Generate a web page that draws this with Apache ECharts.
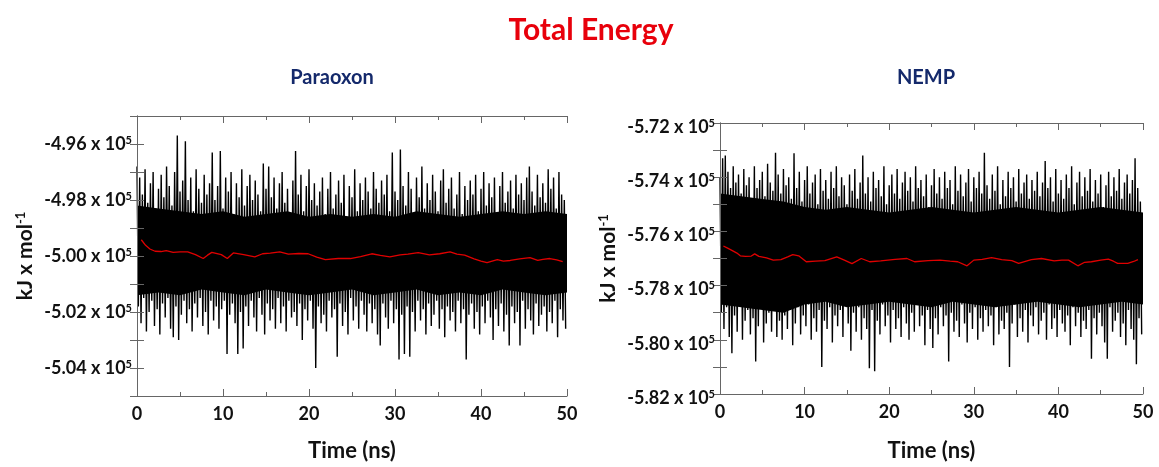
<!DOCTYPE html>
<html><head><meta charset="utf-8">
<script src="https://cdn.jsdelivr.net/npm/echarts@6/dist/echarts.min.js"></script>
<style>html,body{margin:0;padding:0;background:#fff}#c{width:1159px;height:467px}</style>
</head><body><div id="c"></div>
<script>
// ---- data (energies in units of 10^5 kJ/mol, time in ns) ----
const chartTitle = 'Total Energy';
const panelTitles = ['Paraoxon', 'NEMP'];
const xTicks = [0, 10, 20, 30, 40, 50];
const paraoxonYTicks = [-5.04, -5.02, -5.00, -4.98, -4.96];
const nempYTicks = [-5.82, -5.80, -5.78, -5.76, -5.74, -5.72];

// upper excursions of the raw trace (one per sample pair)
const paraoxonHigh = [
-4.968,-4.972,-4.978,-4.969,-4.981,-4.974,-4.970,-4.983,-4.976,-4.971,
-4.979,-4.968,-4.975,-4.982,-4.970,-4.957,-4.977,-4.973,-4.959,-4.980,
-4.972,-4.984,-4.969,-4.976,-4.981,-4.971,-4.978,-4.974,-4.963,-4.980,
-4.975,-4.9625,-4.983,-4.972,-4.977,-4.970,-4.985,-4.974,-4.979,-4.969,
-4.982,-4.975,-4.971,-4.980,-4.973,-4.978,-4.984,-4.967,-4.976,-4.968,
-4.979,-4.972,-4.983,-4.974,-4.970,-4.981,-4.976,-4.986,-4.973,-4.9625,
-4.978,-4.971,-4.984,-4.975,-4.969,-4.980,-4.974,-4.982,-4.977,-4.972,
-4.985,-4.976,-4.970,-4.983,-4.978,-4.973,-4.981,-4.971,-4.986,-4.975,
-4.979,-4.969,-4.984,-4.974,-4.980,-4.972,-4.977,-4.983,-4.970,-4.976,
-4.981,-4.973,-4.978,-4.971,-4.984,-4.963,-4.977,-4.980,-4.962,-4.975,
-4.982,-4.970,-4.976,-4.985,-4.972,-4.979,-4.968,-4.983,-4.974,-4.980,
-4.971,-4.977,-4.984,-4.973,-4.969,-4.981,-4.976,-4.972,-4.983,-4.978,
-4.970,-4.985,-4.975,-4.980,-4.973,-4.978,-4.971,-4.984,-4.976,-4.970,
-4.982,-4.974,-4.979,-4.972,-4.986,-4.975,-4.970,-4.981,-4.977,-4.973,
-4.983,-4.971,-4.978,-4.974,-4.980,-4.972,-4.968,-4.977,-4.982,-4.971,
-4.979,-4.974,-4.981,-4.969,-4.976,-4.972,-4.983,-4.970,-4.978,-4.980];
// lower excursions of the raw trace
const paraoxonLow = [
-5.018,-5.024,-5.015,-5.027,-5.020,-5.016,-5.025,-5.019,-5.028,-5.017,
-5.022,-5.015,-5.026,-5.029,-5.018,-5.030,-5.021,-5.016,-5.024,-5.019,
-5.027,-5.017,-5.022,-5.015,-5.025,-5.020,-5.028,-5.016,-5.023,-5.018,
-5.026,-5.019,-5.016,-5.035,-5.021,-5.017,-5.024,-5.035,-5.020,-5.033,
-5.018,-5.025,-5.016,-5.022,-5.027,-5.015,-5.021,-5.028,-5.017,-5.023,
-5.019,-5.026,-5.015,-5.024,-5.018,-5.027,-5.016,-5.022,-5.020,-5.025,
-5.017,-5.030,-5.019,-5.023,-5.016,-5.026,-5.040,-5.018,-5.024,-5.021,
-5.027,-5.016,-5.022,-5.019,-5.036,-5.017,-5.025,-5.020,-5.028,-5.015,
-5.023,-5.018,-5.026,-5.016,-5.021,-5.027,-5.017,-5.024,-5.019,-5.028,
-5.032,-5.017,-5.022,-5.026,-5.016,-5.024,-5.019,-5.037,-5.021,-5.035,
-5.018,-5.036,-5.020,-5.027,-5.016,-5.023,-5.019,-5.028,-5.017,-5.025,
-5.021,-5.016,-5.026,-5.019,-5.029,-5.018,-5.023,-5.020,-5.027,-5.016,
-5.024,-5.019,-5.037,-5.021,-5.017,-5.026,-5.020,-5.028,-5.018,-5.024,
-5.016,-5.022,-5.030,-5.019,-5.025,-5.017,-5.027,-5.021,-5.032,-5.018,
-5.024,-5.020,-5.032,-5.016,-5.026,-5.019,-5.023,-5.028,-5.017,-5.025,
-5.021,-5.018,-5.027,-5.020,-5.024,-5.016,-5.029,-5.019,-5.023,-5.026];
const nempHigh = [
-5.740,-5.733,-5.732,-5.738,-5.744,-5.736,-5.742,-5.739,-5.746,-5.737,
-5.743,-5.740,-5.748,-5.736,-5.744,-5.741,-5.738,-5.747,-5.735,-5.742,
-5.745,-5.731,-5.739,-5.746,-5.737,-5.743,-5.740,-5.748,-5.7312,-5.744,
-5.738,-5.749,-5.741,-5.736,-5.746,-5.742,-5.739,-5.750,-5.737,-5.745,
-5.741,-5.748,-5.738,-5.744,-5.736,-5.747,-5.740,-5.743,-5.750,-5.739,
-5.745,-5.737,-5.748,-5.742,-5.732,-5.746,-5.740,-5.749,-5.738,-5.744,
-5.741,-5.747,-5.736,-5.750,-5.743,-5.739,-5.746,-5.737,-5.748,-5.742,
-5.738,-5.745,-5.740,-5.749,-5.736,-5.744,-5.741,-5.747,-5.739,-5.751,
-5.743,-5.737,-5.746,-5.740,-5.748,-5.738,-5.744,-5.741,-5.750,-5.736,
-5.745,-5.739,-5.747,-5.742,-5.737,-5.749,-5.740,-5.744,-5.738,-5.746,
-5.731,-5.743,-5.748,-5.739,-5.745,-5.736,-5.750,-5.741,-5.747,-5.738,
-5.744,-5.740,-5.749,-5.737,-5.746,-5.742,-5.739,-5.748,-5.741,-5.745,
-5.738,-5.747,-5.742,-5.734,-5.744,-5.740,-5.749,-5.737,-5.746,-5.741,
-5.748,-5.739,-5.744,-5.736,-5.750,-5.742,-5.738,-5.747,-5.740,-5.745,
-5.737,-5.749,-5.741,-5.746,-5.739,-5.751,-5.743,-5.738,-5.747,-5.740,
-5.745,-5.737,-5.748,-5.742,-5.739,-5.746,-5.741,-5.733,-5.744,-5.749];
const nempLow = [
-5.790,-5.796,-5.788,-5.799,-5.805,-5.791,-5.797,-5.787,-5.800,-5.793,
-5.789,-5.798,-5.792,-5.808,-5.795,-5.788,-5.801,-5.794,-5.790,-5.797,
-5.787,-5.799,-5.793,-5.800,-5.791,-5.796,-5.789,-5.802,-5.794,-5.788,
-5.798,-5.791,-5.795,-5.787,-5.800,-5.792,-5.797,-5.789,-5.810,-5.793,
-5.796,-5.788,-5.801,-5.791,-5.795,-5.789,-5.799,-5.786,-5.794,-5.804,
-5.790,-5.797,-5.788,-5.800,-5.792,-5.796,-5.8105,-5.789,-5.8116,-5.793,
-5.798,-5.787,-5.795,-5.791,-5.801,-5.789,-5.796,-5.792,-5.799,-5.788,
-5.794,-5.800,-5.790,-5.797,-5.787,-5.795,-5.791,-5.802,-5.789,-5.796,
-5.803,-5.792,-5.798,-5.788,-5.795,-5.791,-5.808,-5.790,-5.797,-5.793,
-5.799,-5.787,-5.794,-5.801,-5.790,-5.796,-5.788,-5.800,-5.792,-5.797,
-5.789,-5.795,-5.791,-5.802,-5.788,-5.798,-5.793,-5.796,-5.790,-5.810,
-5.794,-5.787,-5.799,-5.792,-5.797,-5.789,-5.801,-5.791,-5.795,-5.788,
-5.798,-5.793,-5.790,-5.800,-5.787,-5.796,-5.792,-5.799,-5.789,-5.794,
-5.797,-5.791,-5.802,-5.788,-5.795,-5.790,-5.799,-5.793,-5.796,-5.789,
-5.807,-5.792,-5.798,-5.790,-5.795,-5.801,-5.807,-5.788,-5.797,-5.793,
-5.790,-5.799,-5.794,-5.802,-5.789,-5.796,-5.800,-5.809,-5.792,-5.798];

// edges of the solid black core of each trace, every 2.5 ns
const coreTime = [0,2.5,5,7.5,10,12.5,15,17.5,20,22.5,25,27.5,30,32.5,35,37.5,40,42.5,45,47.5,50];
const paraoxonCoreHigh = [-4.982,-4.983,-4.984,-4.985,-4.984,-4.986,-4.985,-4.984,-4.986,-4.985,-4.986,-4.985,-4.986,-4.984,-4.985,-4.986,-4.985,-4.984,-4.985,-4.984,-4.985];
const paraoxonCoreLow = [-5.014,-5.013,-5.014,-5.012,-5.013,-5.014,-5.012,-5.013,-5.014,-5.013,-5.012,-5.014,-5.013,-5.012,-5.014,-5.013,-5.014,-5.012,-5.013,-5.014,-5.013];
const nempCoreHigh = [-5.746,-5.747,-5.748,-5.749,-5.751,-5.752,-5.751,-5.752,-5.753,-5.752,-5.751,-5.752,-5.753,-5.752,-5.751,-5.752,-5.753,-5.752,-5.751,-5.752,-5.753];
const nempCoreLow = [-5.787,-5.788,-5.789,-5.790,-5.787,-5.786,-5.788,-5.787,-5.786,-5.787,-5.788,-5.786,-5.787,-5.788,-5.787,-5.786,-5.787,-5.788,-5.787,-5.786,-5.787];

// running average (red)
const paraoxonAvgTime = [0.5,1.0,1.5,2.1,2.8,3.4,4.2,5.0,5.9,6.8,7.7,8.2,8.7,9.8,10.5,11.2,12.4,13.7,14.6,15.5,16.6,17.6,18.8,19.9,20.9,21.9,23.4,24.8,26.0,27.3,28.3,29.4,30.6,31.5,32.7,34.0,35.2,36.4,37.2,38.1,39.2,40.0,40.7,41.9,42.6,43.4,44.5,45.7,46.6,47.2,48.0,48.8,49.5];
const paraoxonAvg = [-4.9942,-4.9962,-4.9975,-4.9983,-4.9984,-4.9981,-4.9987,-4.9985,-4.9985,-4.9995,-5.0009,-4.9997,-4.9987,-4.9995,-5.0009,-4.9989,-4.9995,-5.0003,-4.9992,-4.9990,-4.9985,-4.9993,-4.9991,-4.9992,-5.0004,-5.0013,-5.0009,-5.0009,-5.0002,-4.9992,-4.9998,-5.0003,-4.9996,-4.9993,-4.9988,-4.9996,-4.9992,-4.9985,-4.9993,-4.9997,-5.0010,-5.0018,-5.0024,-5.0013,-5.0018,-5.0016,-5.0010,-5.0006,-5.0016,-5.0012,-5.0009,-5.0014,-5.0020];
const nempAvgTime = [0.4,0.9,1.4,2.0,2.4,3.0,3.7,4.1,4.6,5.5,6.3,7.2,8.0,8.6,9.3,10.2,11.3,12.4,13.8,14.7,15.6,16.7,17.7,19.0,20.7,22.1,23.0,24.6,26.0,27.2,28.1,29.2,30.0,31.0,32.1,33.3,34.5,35.3,36.8,38.0,39.5,40.4,41.2,42.3,43.1,43.9,45.0,45.9,46.5,47.0,48.2,48.9,49.4];
const nempAvg = [-5.7654,-5.7662,-5.7670,-5.7680,-5.7690,-5.7692,-5.7691,-5.7683,-5.7692,-5.7698,-5.7706,-5.7704,-5.7694,-5.7686,-5.7690,-5.7712,-5.7710,-5.7708,-5.7694,-5.7706,-5.7719,-5.7700,-5.7712,-5.7709,-5.7703,-5.7700,-5.7712,-5.7708,-5.7706,-5.7710,-5.7712,-5.7727,-5.7706,-5.7703,-5.7697,-5.7704,-5.7708,-5.7718,-5.7704,-5.7700,-5.7709,-5.7706,-5.7706,-5.7727,-5.7714,-5.7712,-5.7706,-5.7702,-5.7710,-5.7718,-5.7718,-5.7711,-5.7704];

const simLength = 50; // ns

// ---- build series data ----
function trace(high, low) {
  const step = simLength / high.length;
  const out = [];
  for (let i = 0; i < high.length; i++) {
    out.push([i * step, high[i]]);
    out.push([(i + 0.5) * step, low[i]]);
  }
  return out;
}
function pairs(t, v) { return t.map((x, i) => [x, v[i]]); }

const FONT = 'Lato';
const AX = '#666';
const TXT = '#111';
function yLabel(ticks) {
  return function (v) {
    const k = Math.round(v * 100);
    const hit = ticks.some(t => Math.round(t * 100) === k);
    if (!hit) return '';
    return '{a|' + (k / 100).toFixed(2) + ' x 10}{s|5}';
  };
}
const yRich = {
  a: { fontFamily: FONT, fontWeight: 'bold', fontSize: 18, color: TXT },
  s: { fontFamily: FONT, fontWeight: 'bold', fontSize: 11, color: TXT, verticalAlign: 'top', padding: [0, 0, 8, 0] }
};
const nameRich = {
  a: { fontFamily: FONT, fontWeight: 'bold', fontSize: 21, color: TXT },
  s: { fontFamily: FONT, fontWeight: 'bold', fontSize: 13, color: TXT, verticalAlign: 'top', padding: [0, 0, 9, 0] }
};

function xAxes(gi) {
  const base = {
    type: 'value', gridIndex: gi, min: 0, max: 50, interval: 10, z: 10,
    axisLine: { lineStyle: { color: AX, width: 1 } },
    axisTick: { inside: true, length: 7, lineStyle: { color: AX } },
    minorTick: { show: true, splitNumber: 2, length: 4, lineStyle: { color: AX } },
    splitLine: { show: false }
  };
  return [
    Object.assign({}, base, {
      position: 'bottom',
      axisLabel: { fontFamily: FONT, fontWeight: 'bold', fontSize: 18, color: TXT, margin: 9,
        formatter: v => xTicks.includes(Math.round(v)) ? String(Math.round(v)) : '' },
      name: 'Time (ns)', nameLocation: 'middle', nameGap: gi === 0 ? 44 : 46,
      nameTextStyle: { fontFamily: FONT, fontWeight: 'bold', fontSize: 22, color: TXT }
    }),
    Object.assign({}, base, { position: 'top', axisLabel: { show: false } })
  ];
}
function yAxes(gi, min, max, ticks) {
  const base = {
    type: 'value', gridIndex: gi, min: min, max: max, interval: 0.01, z: 10,
    axisLine: { lineStyle: { color: AX, width: 1 } },
    axisTick: { inside: true, length: 7, lineStyle: { color: AX } },
    splitLine: { show: false }
  };
  return [
    Object.assign({}, base, {
      position: 'left',
      axisLabel: { margin: 5, formatter: yLabel(ticks), rich: yRich, padding: gi === 0 ? 0 : [8, 0, 0, 0] },
      name: '{a|kJ x mol}{s|-1}', nameLocation: 'middle', nameGap: 101,
      nameTextStyle: { rich: nameRich }
    }),
    Object.assign({}, base, { position: 'right', axisLabel: { show: false } })
  ];
}

// solid core: black area down from upper edge, then white area down from lower edge
function coreSeries(xi, hi, lo) {
  return [
    { type: 'line', xAxisIndex: xi, yAxisIndex: xi, data: pairs(coreTime, hi), symbol: 'none',
      lineStyle: { width: 0, opacity: 0 }, areaStyle: { color: '#000', opacity: 1, origin: 'start' }, silent: true, z: 1 },
    { type: 'line', xAxisIndex: xi, yAxisIndex: xi, data: pairs(coreTime, lo), symbol: 'none',
      lineStyle: { width: 0, opacity: 0 }, areaStyle: { color: '#fff', opacity: 1, origin: 'start' }, silent: true, z: 1 }
  ];
}

const option = {
  animation: false,
  backgroundColor: '#fff',
  grid: [
    { left: 137, top: 116, width: 430, height: 286 },
    { left: 720, top: 123, width: 423, height: 277 }
  ],
  xAxis: [...xAxes(0), ...xAxes(1)],
  yAxis: [...yAxes(0, -5.05, -4.95, paraoxonYTicks), ...yAxes(1, -5.82, -5.72, nempYTicks)],
  graphic: [
    { type: 'text', x: 591, y: 30, style: { text: chartTitle, fill: '#e8000b', font: 'bold 30px Lato', align: 'center', verticalAlign: 'middle' } },
    { type: 'text', x: 332, y: 78, style: { text: panelTitles[0], fill: '#14296b', font: 'bold 20px Lato', align: 'center', verticalAlign: 'middle' } },
    { type: 'text', x: 926, y: 78, style: { text: panelTitles[1], fill: '#14296b', font: 'bold 20px Lato', align: 'center', verticalAlign: 'middle' } }
  ],
  series: [
    ...coreSeries(0, paraoxonCoreHigh, paraoxonCoreLow),
    { type: 'line', xAxisIndex: 0, yAxisIndex: 0, data: trace(paraoxonHigh, paraoxonLow), symbol: 'none', sampling: null,
      lineStyle: { color: '#000', width: 1.4 }, silent: true, z: 2 },
    { type: 'line', xAxisIndex: 0, yAxisIndex: 0, data: pairs(paraoxonAvgTime, paraoxonAvg), symbol: 'none',
      lineStyle: { color: '#e00000', width: 1.3 }, silent: true, z: 3 },
    ...coreSeries(2, nempCoreHigh, nempCoreLow),
    { type: 'line', xAxisIndex: 2, yAxisIndex: 2, data: trace(nempHigh, nempLow), symbol: 'none', sampling: null,
      lineStyle: { color: '#000', width: 1.4 }, silent: true, z: 2 },
    { type: 'line', xAxisIndex: 2, yAxisIndex: 2, data: pairs(nempAvgTime, nempAvg), symbol: 'none',
      lineStyle: { color: '#e00000', width: 1.3 }, silent: true, z: 3 }
  ]
};
echarts.init(document.getElementById('c')).setOption(option);
</script>
</body></html>
